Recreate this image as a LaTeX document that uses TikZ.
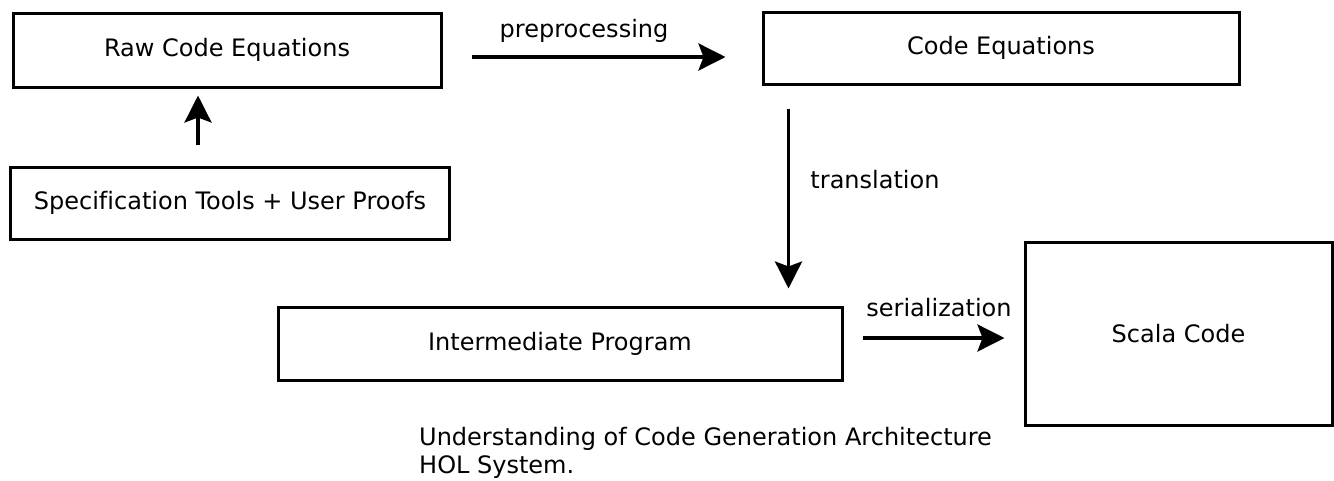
\documentclass[tikz,border=0pt]{standalone}
\usepackage{fontspec}
\setmainfont{DejaVu Sans}[Ligatures=CommonOff]
\usetikzlibrary{arrows.meta}
\begin{document}
\begin{tikzpicture}[x=1pt,y=-1pt,
  box/.style={draw=black, line width=3pt, rectangle, inner sep=0pt, align=center, font=\fontsize{24}{28}\selectfont},
  lbl/.style={inner sep=0pt, font=\fontsize{24}{28}\selectfont},
  arr/.style={line width=3.5pt, -{Stealth[length=27pt,width=27pt,inset=5pt]}}]
\useasboundingbox (0,0) rectangle (1334,480);
\node[box, minimum width=428pt, minimum height=74pt] (raw) at (227,50) {Raw Code Equations};
\node[box, minimum width=439pt, minimum height=72pt] (spec) at (230,203) {Specification Tools + User Proofs};
\node[box, minimum width=476pt, minimum height=72pt] (ce) at (1001,48) {Code Equations};
\node[box, minimum width=564pt, minimum height=73pt] (ip) at (560,343.5) {Intermediate Program};
\node[box, minimum width=307pt, minimum height=183pt] (scala) at (1178.5,333.5) {Scala Code};
\coordinate (ux) at (198,0);
\coordinate (tx) at (788.5,0);
\draw[arr, shorten <=21pt, shorten >=7pt] (spec.north -| ux) -- (raw.south -| ux);
\draw[arr] ([xshift=29pt,yshift=-7pt]raw.east) -- ([xshift=-36pt,yshift=-9pt]ce.west);
\draw[arr, shorten <=23pt, shorten >=17pt] (ce.south -| tx) -- (ip.north -| tx);
\draw[arr] ([xshift=19pt,yshift=5.5pt]ip.east) -- ([xshift=-19pt,yshift=-4.5pt]scala.west);
\node[lbl] (lp) at (584,31) {preprocessing};
\node[lbl] (lt) at (875,180) {translation};
\node[lbl] (ls) at (939,308) {serialization};
\node[lbl, anchor=west, align=left] (cap) at (419,453) {Understanding of Code Generation Architecture\\HOL System.};
\end{tikzpicture}
\end{document}
